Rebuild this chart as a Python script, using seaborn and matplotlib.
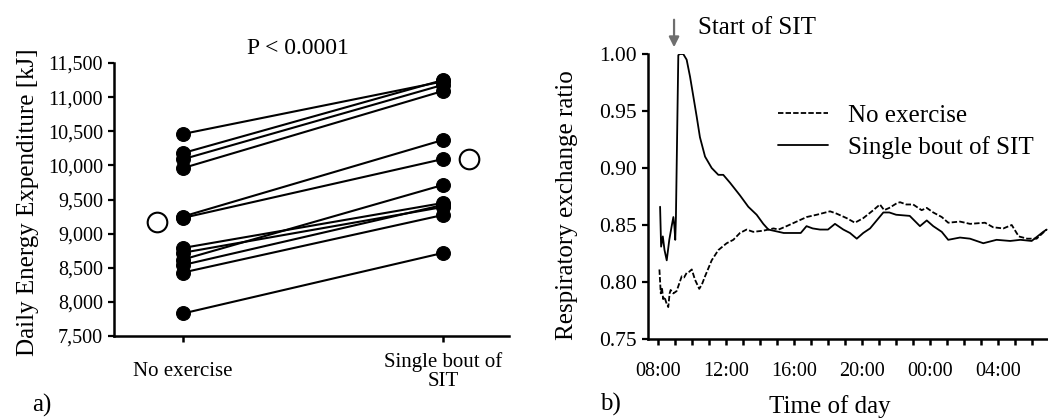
import numpy as np
import pandas as pd
import matplotlib
matplotlib.use("Agg")
import matplotlib.pyplot as plt
from matplotlib.ticker import FuncFormatter, MultipleLocator
import seaborn as sns

# ── Data: panel a) daily energy expenditure [kJ] ─────────────────────────────
conditions = ["No exercise", "Single bout of\nSIT"]
no_exercise_kj = [10460, 10180, 10090, 9960, 9250, 9230, 8790, 8720, 8620, 8540, 8430, 7830]
sit_kj = [11230, 11250, 11180, 11090, 10372, 10093, 9449, 9390, 9713, 9420, 9273, 8717]
group_means_kj = [9170, 10095]
p_text = "P < 0.0001"

# ── Data: panel b) respiratory exchange ratio (hours after 08:00) ────────────
ne_hours = [0.10, 0.18, 0.25, 0.32, 0.40, 0.50, 0.62, 0.70, 0.76, 0.92,
            1.11, 1.25, 1.41, 1.55, 1.70, 1.85, 2.00, 2.19, 2.44, 2.60,
            2.78, 3.17, 3.56, 4.05, 4.44, 4.83, 5.22, 5.61, 6.20, 6.80,
            7.10, 7.57, 8.16, 8.75, 9.34, 10.12, 10.50, 11.10, 11.58, 12.07,
            12.66, 13.05, 13.30, 13.60, 14.03, 14.23, 14.60, 15.00, 15.50, 15.80,
            16.18, 16.68, 17.06, 17.75, 18.34, 19.22, 19.70, 20.30, 20.79, 21.20,
            21.70, 22.25, 22.84]
ne_rer = [0.811, 0.790, 0.795, 0.785, 0.787, 0.782, 0.778, 0.790, 0.793, 0.790,
          0.792, 0.798, 0.805, 0.804, 0.808, 0.809, 0.811, 0.802, 0.794, 0.798,
          0.805, 0.819, 0.828, 0.834, 0.837, 0.843, 0.846, 0.844, 0.845, 0.847,
          0.846, 0.849, 0.853, 0.857, 0.859, 0.862, 0.860, 0.856, 0.852, 0.856,
          0.863, 0.868, 0.863, 0.865, 0.869, 0.870, 0.868, 0.868, 0.863, 0.865,
          0.861, 0.857, 0.852, 0.853, 0.851, 0.852, 0.848, 0.847, 0.850, 0.840,
          0.838, 0.838, 0.846]
sit_hours = [0.14, 0.20, 0.30, 0.40, 0.53, 0.68, 0.82, 0.92, 0.98, 1.03,
             1.07, 1.21, 1.30, 1.50, 1.70, 1.90, 2.09, 2.29, 2.48, 2.78,
             3.17, 3.56, 3.85, 4.25, 4.83, 5.32, 5.81, 6.20, 6.50, 6.80,
             7.40, 8.00, 8.40, 8.74, 9.10, 9.53, 10.00, 10.41, 10.90, 11.29,
             11.69, 12.07, 12.47, 12.86, 13.25, 13.60, 14.00, 14.80, 15.40, 15.80,
             16.18, 16.68, 17.06, 17.75, 18.34, 19.12, 19.90, 20.70, 21.30, 21.96,
             22.64, 22.84]
sit_rer = [0.866, 0.831, 0.840, 0.828, 0.819, 0.837, 0.849, 0.857, 0.849, 0.837,
           0.857, 0.999, 1.000, 1.000, 0.995, 0.980, 0.963, 0.945, 0.927, 0.910,
           0.900, 0.894, 0.894, 0.887, 0.876, 0.866, 0.859, 0.851, 0.846, 0.845,
           0.843, 0.843, 0.843, 0.849, 0.847, 0.846, 0.846, 0.851, 0.846, 0.843,
           0.838, 0.843, 0.847, 0.854, 0.861, 0.861, 0.859, 0.858, 0.849, 0.854,
           0.849, 0.844, 0.837, 0.839, 0.838, 0.834, 0.837, 0.836, 0.837, 0.836,
           0.844, 0.846]
time_tick_labels = ["08:00", "12:00", "16:00", "20:00", "00:00", "04:00"]
sit_start_hour = 0.96

# ── Style ────────────────────────────────────────────────────────────────────
sns.set_style("ticks")
plt.rcParams["font.family"] = ["Liberation Serif", "DejaVu Serif"]
plt.rcParams["axes.linewidth"] = 1.8
plt.rcParams["xtick.major.width"] = 1.8
plt.rcParams["ytick.major.width"] = 1.6
plt.rcParams["xtick.major.size"] = 4.5
plt.rcParams["ytick.major.size"] = 4
plt.rcParams["xtick.color"] = "black"
plt.rcParams["ytick.color"] = "black"
plt.rcParams["text.color"] = "black"
plt.rcParams["axes.labelcolor"] = "black"
plt.rcParams["axes.edgecolor"] = "black"

W, H = 1048, 420
fig = plt.figure(figsize=(W / 100, H / 100), dpi=100)

def px_axes(x0, y0, x1, y1):
    return fig.add_axes([x0 / W, 1 - y1 / H, (x1 - x0) / W, (y1 - y0) / H])

# ── a) paired energy expenditure ─────────────────────────────────────────────
ax1 = px_axes(114, 63, 509, 336)
n = len(no_exercise_kj)
df_a = pd.DataFrame({
    "subject": list(range(n)) * 2,
    "pos": [0] * n + [1] * n,
    "kj": no_exercise_kj + sit_kj,
})
sns.lineplot(data=df_a, x="pos", y="kj", units="subject", estimator=None,
             color="black", lw=1.5, marker="o", markersize=10,
             markeredgecolor="black", markerfacecolor="black", ax=ax1)
mean_offset = 0.1
sns.scatterplot(x=[0 - mean_offset, 1 + mean_offset], y=group_means_kj, s=200,
                facecolor="white", edgecolor="black", linewidth=1.5, ax=ax1, zorder=5)
ax1.set_xlim(-0.265, 1.254)
ax1.set_ylim(7500, 11500)
ax1.yaxis.set_major_locator(MultipleLocator(500))
ax1.yaxis.set_major_formatter(FuncFormatter(lambda v, _: f"{v:,.0f}"))
ax1.set_xticks([0, 1])
ax1.set_xticklabels(conditions, fontsize=15, linespacing=1.05)
for lab in ax1.get_xticklabels():
    lab.set_va("center")
ax1.tick_params(axis="x", pad=21)
ax1.tick_params(axis="y", labelsize=14.5, pad=4)
ax1.set_xlabel("")
ax1.set_ylabel("Daily Energy Expenditure [kJ]", fontsize=18)
ax1.yaxis.set_label_coords(-0.19, 0.49)
sns.despine(ax=ax1)
fig.text(298 / W, 1 - 49 / H, p_text, ha="center", va="center", fontsize=17)
fig.text(32 / W, 1 - 405 / H, "a)", ha="left", va="center", fontsize=18)

# ── b) respiratory exchange ratio ────────────────────────────────────────────
ax2 = px_axes(648, 54, 1048, 339)
sns.lineplot(x=ne_hours, y=ne_rer, color="black", lw=1.3, linestyle=(0, (3, 1.2)),
             label="No exercise", ax=ax2)
sns.lineplot(x=sit_hours, y=sit_rer, color="black", lw=1.3, linestyle="-",
             label="Single bout of SIT", ax=ax2)
ax2.set_xlim(-0.57, 22.92)
ax2.set_ylim(0.75, 1.00)
ax2.set_xticks(np.arange(0, 23, 1))
ax2.set_xticklabels([time_tick_labels[i // 4] if i % 4 == 0 and i // 4 < len(time_tick_labels) else ""
                     for i in range(23)])
ax2.set_yticks([0.75, 0.80, 0.85, 0.90, 0.95, 1.00])
ax2.yaxis.set_major_formatter(FuncFormatter(lambda v, _: f"{v:.2f}"))
ax2.tick_params(axis="x", labelsize=14.5, pad=12)
ax2.tick_params(axis="y", labelsize=15.5, pad=4)
ax2.set_xlabel("Time of day", fontsize=18)
ax2.xaxis.set_label_coords(0.455, -0.195)
ax2.set_ylabel("Respiratory exchange ratio", fontsize=18)
ax2.yaxis.set_label_coords(-0.175, 0.47)
sns.despine(ax=ax2)
ax2.legend(loc="upper left", bbox_to_anchor=(778 / W, 1 - 104 / H),
           bbox_transform=fig.transFigure, frameon=False, fontsize=18,
           handlelength=2.0, handletextpad=0.8, labelspacing=0.38,
           borderpad=0, borderaxespad=0)
ax2.annotate("", xy=(sit_start_hour, 1.014), xycoords=("data", "axes fraction"),
             xytext=(sit_start_hour, 1.13), textcoords=("data", "axes fraction"),
             arrowprops=dict(arrowstyle="-|>,head_length=0.6,head_width=0.3",
                             color="#6e6e6e", lw=1.6),
             annotation_clip=False)
fig.text(698 / W, 1 - 28 / H, "Start of SIT", ha="left", va="center", fontsize=18)
fig.text(600 / W, 1 - 404 / H, "b)", ha="left", va="center", fontsize=18)

fig.savefig("out.png", dpi=100)
